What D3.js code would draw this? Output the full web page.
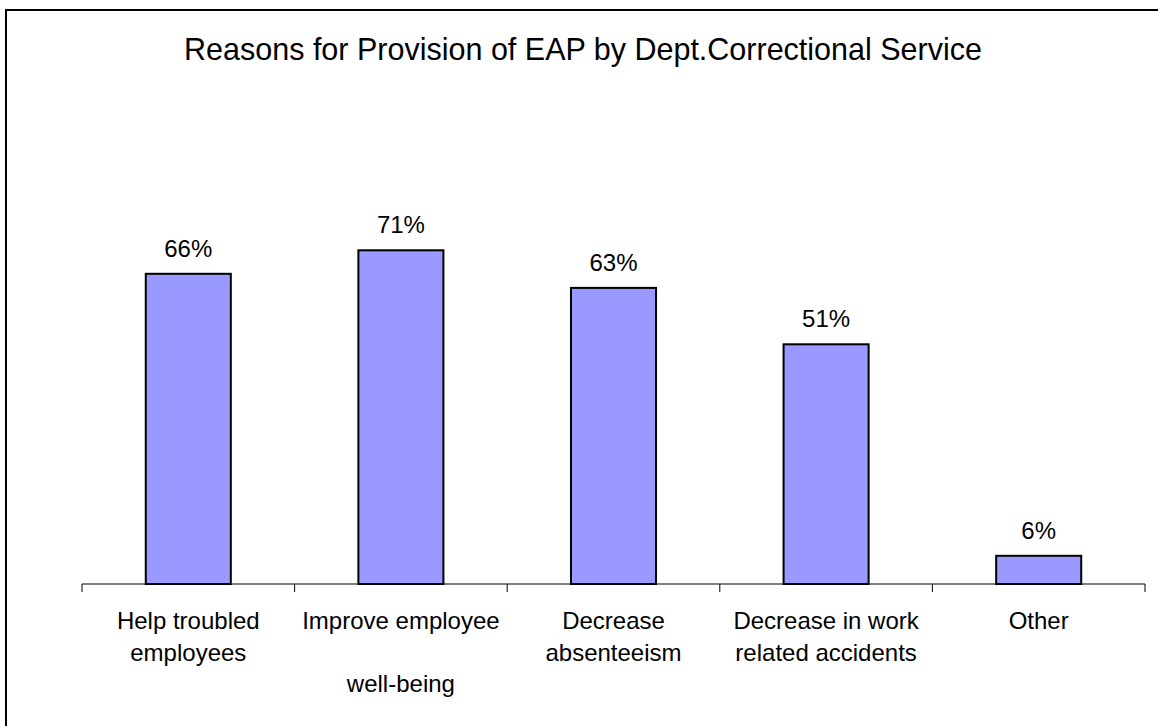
<!doctype html>
<html>
  <head>
    <script src="https://d3js.org/d3.v7.min.js"></script>
    <style>
      body { margin: 0; background: #fff; }
      text { font-family: "Liberation Sans", Arial, sans-serif; fill: #000; }
      rect.bar { fill: #9999FF; stroke: #000; stroke-width: 2; }
      .axis path, .axis line { stroke: #000; stroke-width: 1; }
    </style>
  </head>
  <body>
    <svg style="width:1158px;height:726px;"></svg>
    <script>
      var title = "Reasons for Provision of EAP by Dept.Correctional Service";
      var categories = [
        ["Help troubled", "employees"],
        ["Improve employee", "", "well-being"],
        ["Decrease", "absenteeism"],
        ["Decrease in work", "related accidents"],
        ["Other"]
      ];
      var values = [66, 71, 63, 51, 6];

      var svg = d3.select("svg");

      svg.append("rect")
        .attr("x", 6).attr("y", 10)
        .attr("width", 1300).attr("height", 800)
        .style("fill", "none").style("stroke", "#000").style("stroke-width", 2);

      svg.append("text")
        .attr("x", 583).attr("y", 60)
        .attr("text-anchor", "middle")
        .style("font-size", "30.5px")
        .text(title);

      var x = d3.scaleBand()
        .domain(d3.range(values.length))
        .range([82, 1145])
        .paddingInner(0).paddingOuter(0);

      var y = d3.scaleLinear()
        .domain([0, 100])
        .range([584, 114]);

      var barW = x.bandwidth() * 0.4;

      svg.selectAll("rect.bar").data(values)
        .enter()
        .append("rect")
          .attr("class", "bar")
          .attr("x", (d, i) => x(i) + (x.bandwidth() - barW) / 2)
          .attr("width", barW)
          .attr("y", d => y(d))
          .attr("height", d => y(0) - y(d));

      svg.selectAll("text.value").data(values)
        .enter()
        .append("text")
          .attr("class", "value")
          .attr("x", (d, i) => x(i) + x.bandwidth() / 2)
          .attr("y", d => y(d) - 17)
          .attr("text-anchor", "middle")
          .style("font-size", "24px")
          .text(d => d + "%");

      // axis line and ticks at band edges
      var axis = svg.append("g").attr("class", "axis");
      axis.append("line")
        .attr("x1", x.range()[0]).attr("x2", x.range()[1])
        .attr("y1", y(0)).attr("y2", y(0));
      var edges = d3.range(values.length + 1).map(i => x.range()[0] + i * x.step());
      axis.selectAll("line.tick").data(edges)
        .enter()
        .append("line")
          .attr("class", "tick")
          .attr("x1", d => d).attr("x2", d => d)
          .attr("y1", y(0)).attr("y2", y(0) + 8);

      var labels = svg.selectAll("text.cat").data(categories)
        .enter()
        .append("text")
          .attr("class", "cat")
          .attr("text-anchor", "middle")
          .style("font-size", "24px");
      labels.selectAll("tspan").data((d, i) => d.map(s => ({ s: s, i: i })))
        .enter()
        .append("tspan")
          .attr("x", d => x(d.i) + x.bandwidth() / 2)
          .attr("y", (d, j) => 629 + j * 31.5)
          .text(d => d.s);
    </script>
  </body>
</html>
